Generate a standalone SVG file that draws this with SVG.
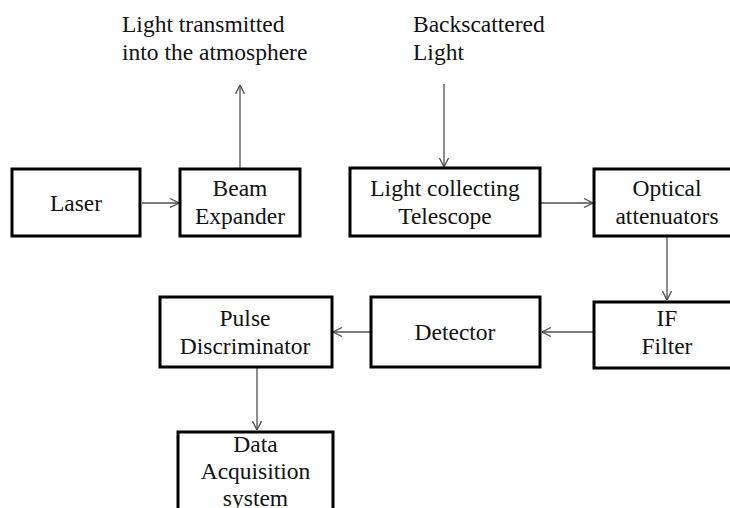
<svg xmlns="http://www.w3.org/2000/svg" width="730" height="508" viewBox="0 0 730 508">
  <style>
    .box { fill: #ffffff; stroke: #000000; stroke-width: 3; }
    .lbl { font-family: "Liberation Serif", "Times New Roman", serif; font-size: 23.5px; fill: #111111; }
    .mid { text-anchor: middle; }
    .wire { fill: none; stroke: #505050; stroke-width: 1.3; }
  </style>
  <defs>
    <marker id="arrow" viewBox="0 0 10 10" refX="10" refY="5" markerWidth="10" markerHeight="10" markerUnits="userSpaceOnUse" orient="auto">
      <path d="M1,0.5 L10,5 L1,9.5" fill="none" stroke="#505050" stroke-width="1.3"/>
    </marker>
  </defs>

  <rect width="730" height="508" fill="#ffffff"/>

  <!-- free-standing labels -->
  <g id="label-transmitted">
    <text class="lbl" x="122" y="32">Light transmitted</text>
    <text class="lbl" x="122" y="60">into the atmosphere</text>
  </g>
  <g id="label-backscattered">
    <text class="lbl" x="413" y="32">Backscattered</text>
    <text class="lbl" x="413" y="60">Light</text>
  </g>

  <!-- connectors -->
  <g id="connectors">
    <line class="wire" x1="142" y1="203" x2="179" y2="203" marker-end="url(#arrow)"/>
    <line class="wire" x1="240" y1="168" x2="240" y2="85" marker-end="url(#arrow)"/>
    <line class="wire" x1="444" y1="84" x2="444" y2="167" marker-end="url(#arrow)"/>
    <line class="wire" x1="541" y1="203" x2="593" y2="203" marker-end="url(#arrow)"/>
    <line class="wire" x1="667" y1="237" x2="667" y2="300" marker-end="url(#arrow)"/>
    <line class="wire" x1="593" y1="332" x2="542" y2="332" marker-end="url(#arrow)"/>
    <line class="wire" x1="370" y1="332" x2="333" y2="332" marker-end="url(#arrow)"/>
    <line class="wire" x1="257" y1="368" x2="257" y2="430" marker-end="url(#arrow)"/>
  </g>

  <g id="laser">
    <rect class="box" x="12" y="169" width="128" height="67"/>
    <text class="lbl mid" x="76" y="211">Laser</text>
  </g>

  <g id="beam-expander">
    <rect class="box" x="180" y="169" width="120" height="67"/>
    <text class="lbl mid" x="240" y="196">Beam</text>
    <text class="lbl mid" x="240" y="224">Expander</text>
  </g>

  <g id="telescope">
    <rect class="box" x="350" y="168" width="190" height="68"/>
    <text class="lbl mid" x="445" y="196">Light collecting</text>
    <text class="lbl mid" x="445" y="224">Telescope</text>
  </g>

  <g id="optical-attenuators">
    <rect class="box" x="594" y="169" width="146" height="67"/>
    <text class="lbl mid" x="667" y="196">Optical</text>
    <text class="lbl mid" x="667" y="224">attenuators</text>
  </g>

  <g id="if-filter">
    <rect class="box" x="594" y="302" width="146" height="66"/>
    <text class="lbl mid" x="667" y="326">IF</text>
    <text class="lbl mid" x="667" y="354">Filter</text>
  </g>

  <g id="detector">
    <rect class="box" x="371" y="297" width="169" height="70"/>
    <text class="lbl mid" x="455" y="340">Detector</text>
  </g>

  <g id="pulse-discriminator">
    <rect class="box" x="160" y="297" width="172" height="70"/>
    <text class="lbl mid" x="245" y="326">Pulse</text>
    <text class="lbl mid" x="245" y="354">Discriminator</text>
  </g>

  <g id="data-acquisition">
    <rect class="box" x="178" y="432" width="155" height="90"/>
    <text class="lbl mid" x="255.5" y="452">Data</text>
    <text class="lbl mid" x="255.5" y="479">Acquisition</text>
    <text class="lbl mid" x="255.5" y="506">system</text>
  </g>
</svg>
